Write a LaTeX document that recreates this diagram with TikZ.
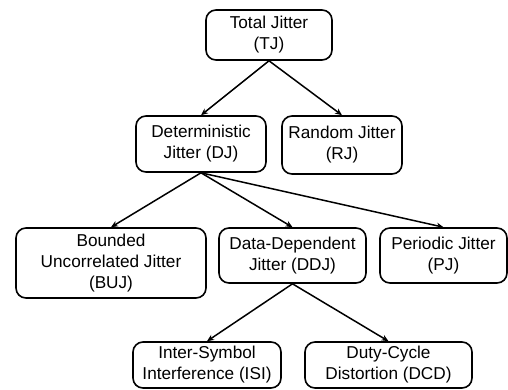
\documentclass[tikz,border=0pt]{standalone}
\usepackage{fontspec}
\setmainfont{Liberation Sans}
\usetikzlibrary{arrows.meta}
\begin{document}
\begin{tikzpicture}[x=1pt,y=-1pt,
  jbox/.style={draw=black, line width=1.6pt, rounded corners=10pt, align=center,
    inner sep=0pt, font=\fontsize{17.2}{21}\selectfont},
  conn/.style={line width=1.5pt, -{Stealth[length=7pt,width=6pt]}}]
\useasboundingbox (0,0) rectangle (508,389);
\node[jbox, minimum width=126pt, minimum height=50pt] (tj) at (269,35) {Total Jitter\\(TJ)};
\node[jbox, minimum width=130pt, minimum height=56pt] (dj) at (201,144) {Deterministic\\Jitter (DJ)};
\node[jbox, minimum width=120pt, minimum height=58pt] (rj) at (342,145) {Random Jitter\\(RJ)};
\node[jbox, minimum width=190pt, minimum height=70pt] (buj) at (111,263) {Bounded\\Uncorrelated Jitter\\(BUJ)};
\node[jbox, minimum width=147pt, minimum height=55pt] (ddj) at (292.5,255.5) {Data-Dependent\\Jitter (DDJ)};
\node[jbox, minimum width=127pt, minimum height=55pt] (pj) at (443.5,255.5) {Periodic Jitter\\(PJ)};
\node[jbox, minimum width=148pt, minimum height=46pt] (isi) at (207,365) {Inter-Symbol\\Interference (ISI)};
\node[jbox, minimum width=167pt, minimum height=46pt] (dcd) at (388.5,365) {Duty-Cycle\\Distortion (DCD)};
\draw[conn] (tj.south) -- (dj.north);
\draw[conn] (tj.south) -- (rj.north);
\draw[conn] (dj.south) -- (buj.north);
\draw[conn] (dj.south) -- (ddj.north);
\draw[conn] (dj.south) -- (pj.north);
\draw[conn] (ddj.south) -- (isi.north);
\draw[conn] (ddj.south) -- (dcd.north);
\end{tikzpicture}
\end{document}
